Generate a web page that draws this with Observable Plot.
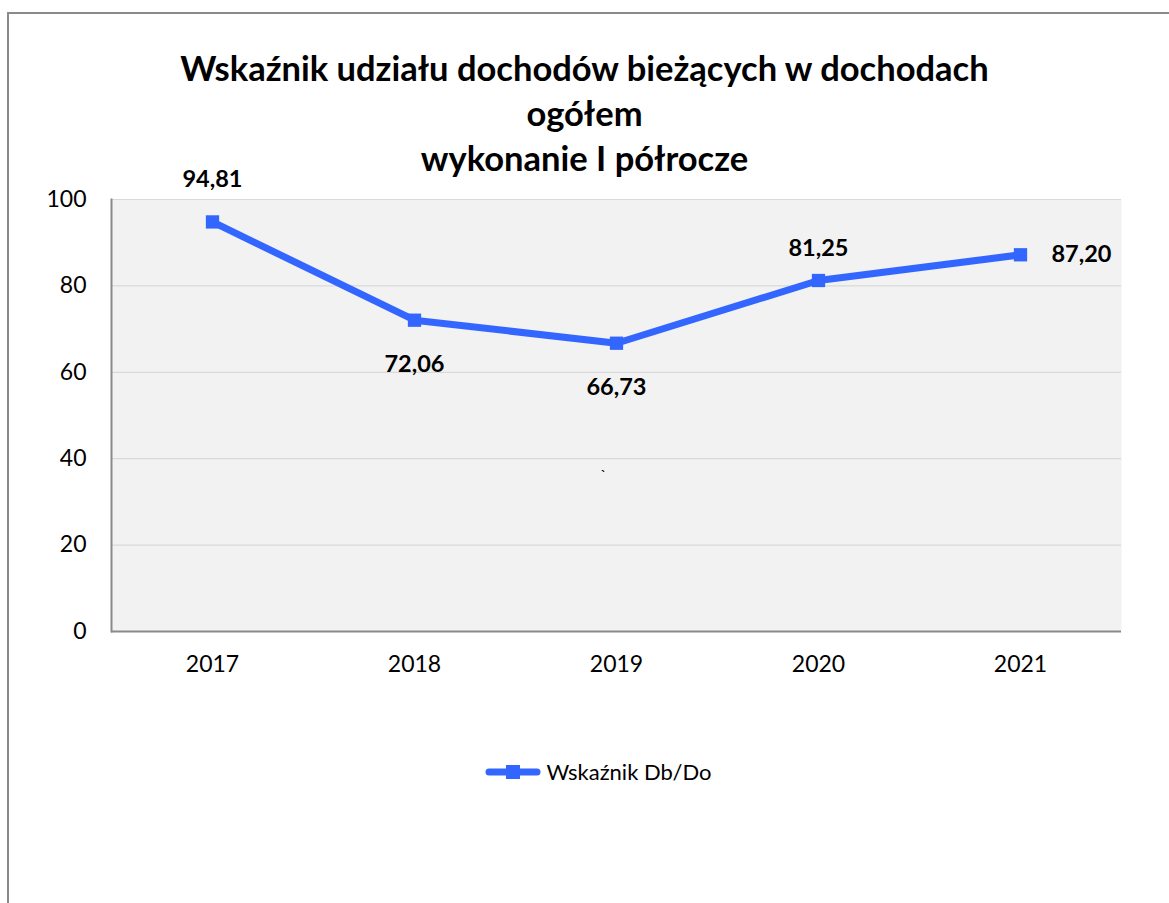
<!DOCTYPE html>
<html>
<head>
<meta charset="utf-8">
<script src="https://cdn.jsdelivr.net/npm/d3@7"></script>
<script src="https://cdn.jsdelivr.net/npm/@observablehq/plot@0.6"></script>
<style>
  html, body { margin: 0; padding: 0; background: #fff; }
  #chart { position: relative; width: 1169px; height: 903px; overflow: hidden; font-family: Lato, "Open Sans", sans-serif; color: #000; }
  #border { position: absolute; left: 7px; top: 12px; width: 1300px; height: 1000px; border-left: 2px solid #8a8a8a; border-top: 2px solid #8a8a8a; }
  #title { position: absolute; left: 0; width: 1169px; top: 45px; text-align: center; font-weight: bold; font-size: 34.5px; line-height: 45px; }
  #plot { position: absolute; left: 0; top: 150px; }
  #legend { position: absolute; left: 14px; width: 1169px; top: 758px; display: flex; justify-content: center; align-items: center; font-size: 22px; }
  #legend svg { margin-right: 5px; }
</style>
</head>
<body>
<div id="chart">
  <div id="border"></div>
  <div id="title"></div>
  <div id="plot"></div>
  <div id="legend"></div>
</div>
<script>
const titleLines = ["Wskaźnik udziału dochodów bieżących w dochodach", "ogółem", "wykonanie I półrocze"];
const years = ["2017", "2018", "2019", "2020", "2021"];
const values = [94.81, 72.06, 66.73, 81.25, 87.20];
const valueLabels = ["94,81", "72,06", "66,73", "81,25", "87,20"];
const yTicks = [0, 20, 40, 60, 80, 100];
const seriesName = "Wskaźnik Db/Do";
const strayMark = [{year: "2019", value: 36, text: "`"}];

const lineColor = "#3366ff";
const data = years.map((year, i) => ({year, value: values[i], label: valueLabels[i]}));

// label placement per point (above / below / right)
const placement = [
  {dx: 0, dy: -42},
  {dx: 0, dy: 44},
  {dx: 0, dy: 44},
  {dx: 0, dy: -32},
  {dx: 61, dy: 0}
];

document.getElementById("title").innerHTML = titleLines.map(t => `<div>${t}</div>`).join("");

const labelMarks = data.map((d, i) => Plot.text([d], {
  x: "year", y: "value", text: "label",
  dx: placement[i].dx, dy: placement[i].dy,
  fontSize: 23.5, fontWeight: "bold", fill: "#000", lineAnchor: "middle"
}));

const chart = Plot.plot({
  width: 1169,
  height: 531,
  marginLeft: 111,
  marginRight: 48,
  marginTop: 49,
  marginBottom: 50,
  style: {fontFamily: "Lato, 'Open Sans', sans-serif", fontSize: "23px", color: "#000", background: "transparent"},
  x: {type: "point", domain: years, padding: 0.5, label: null, tickSize: 0, tickPadding: 24},
  y: {domain: [0, 100], ticks: yTicks, label: null, tickSize: 0, tickPadding: 25},
  marks: [
    Plot.frame({fill: "#f2f2f2", stroke: null}),
    Plot.gridY(yTicks, {stroke: "#d9d9d9", strokeOpacity: 1, strokeWidth: 1.2}),
    Plot.frame({anchor: "left", stroke: "#8a8a8a", strokeWidth: 2}),
    Plot.ruleY([0], {stroke: "#8a8a8a", strokeWidth: 2}),
    Plot.line(data, {x: "year", y: "value", stroke: lineColor, strokeWidth: 7, strokeLinejoin: "round"}),
    Plot.dot(data, {x: "year", y: "value", symbol: "square", r: 7.5, fill: lineColor, stroke: null}),
    ...labelMarks,
    Plot.text(strayMark, {x: "year", y: "value", text: "text", dx: -13, fontSize: 16, fill: "#000"})
  ]
});
document.getElementById("plot").appendChild(chart);

// legend
const legend = document.getElementById("legend");
const sw = d3.create("svg").attr("width", 56).attr("height", 20);
sw.append("line").attr("x1", 4).attr("x2", 52).attr("y1", 10).attr("y2", 10)
  .attr("stroke", lineColor).attr("stroke-width", 7).attr("stroke-linecap", "round");
sw.append("rect").attr("x", 21).attr("y", 3).attr("width", 14).attr("height", 14).attr("fill", lineColor);
legend.appendChild(sw.node());
const lt = document.createElement("span");
lt.textContent = seriesName;
legend.appendChild(lt);
</script>
</body>
</html>
